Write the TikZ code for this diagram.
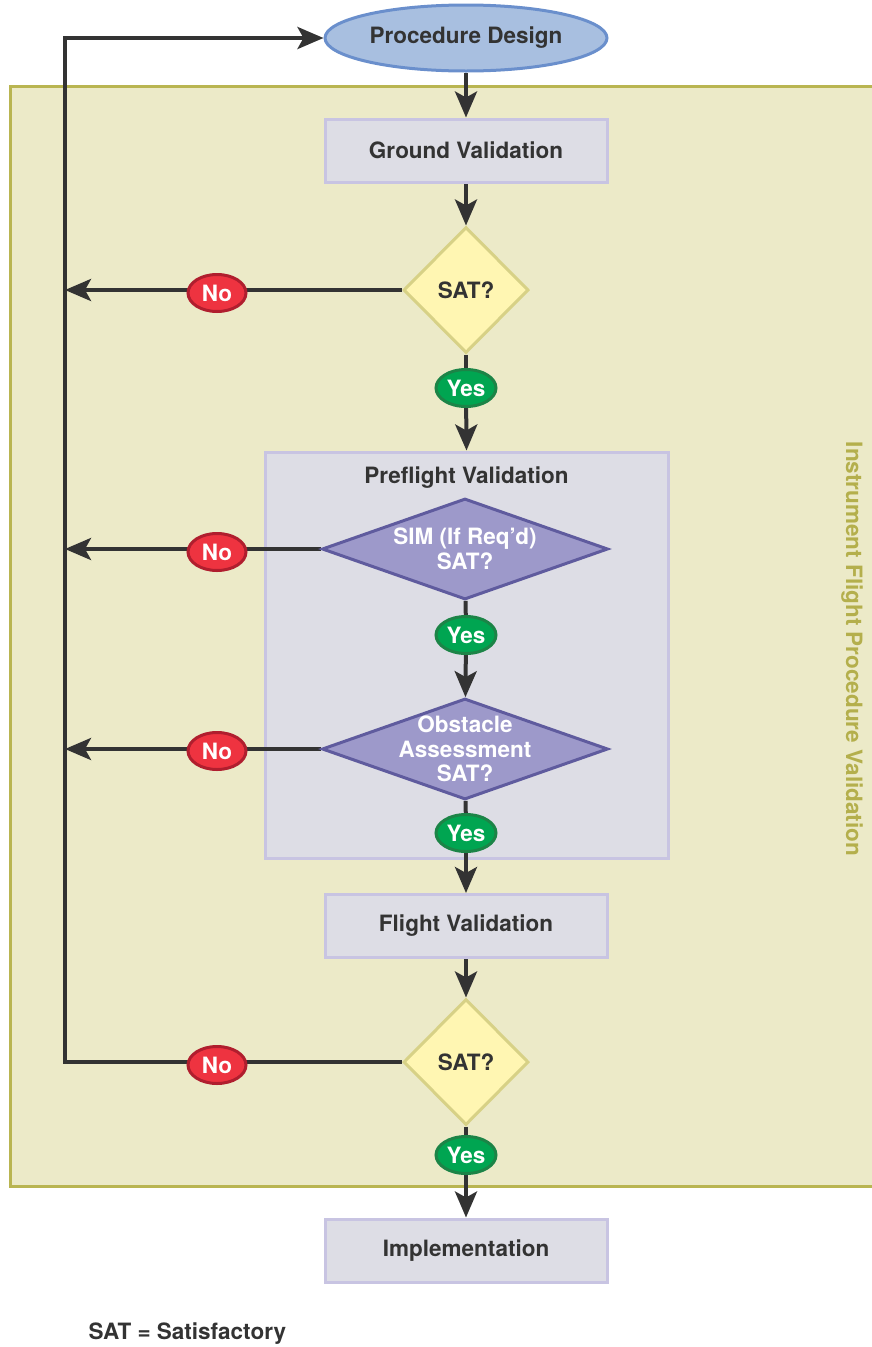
\documentclass[tikz,border=0pt]{standalone}
\usepackage{fontspec}
\setmainfont{TeX Gyre Heros}
\usetikzlibrary{shapes.geometric,arrows.meta}
\definecolor{ink}{HTML}{333333}
\definecolor{panelfill}{HTML}{ECEAC8}
\definecolor{paneldraw}{HTML}{B9B551}
\definecolor{boxfill}{HTML}{DDDDE5}
\definecolor{boxdraw}{HTML}{C8C4E2}
\definecolor{ovalfill}{HTML}{A8BFE0}
\definecolor{ovaldraw}{HTML}{6A8FCC}
\definecolor{ydfill}{HTML}{FFF6B2}
\definecolor{yddraw}{HTML}{D7D186}
\definecolor{pdfill}{HTML}{9D99CA}
\definecolor{pddraw}{HTML}{5F5B9E}
\definecolor{yesfill}{HTML}{00A551}
\definecolor{yesdraw}{HTML}{1C8447}
\definecolor{nofill}{HTML}{EE3340}
\definecolor{nodraw}{HTML}{B01E2E}
\definecolor{vtext}{HTML}{B4AF4C}
\pgfdeclarelayer{bg}
\pgfdeclarelayer{lines}
\pgfsetlayers{bg,lines,main}
\tikzset{
  lbl/.style={font=\fontsize{22.5}{25}\selectfont\bfseries, text=ink},
  procbox/.style={lbl, rectangle, draw=boxdraw, fill=boxfill, line width=3pt, minimum width=282pt, minimum height=63pt, inner sep=0pt},
  startoval/.style={lbl, ellipse, draw=ovaldraw, fill=ovalfill, line width=3pt, minimum width=282pt, minimum height=66pt, inner sep=0pt},
  ydiam/.style={lbl, diamond, draw=yddraw, fill=ydfill, line width=3pt, minimum width=125pt, minimum height=126pt, inner sep=0pt},
  pdiam/.style={diamond, draw=pddraw, fill=pdfill, line width=3pt, minimum width=286pt, minimum height=101pt, inner sep=0pt},
  ptext/.style={text=white, align=center, inner sep=0pt, font=\fontsize{22.5}{24.5}\selectfont\bfseries},
  yesoval/.style={lbl, ellipse, draw=yesdraw, fill=yesfill, text=white, line width=3pt, minimum width=60pt, minimum height=37pt, inner sep=0pt},
  nooval/.style={lbl, ellipse, draw=nodraw, fill=nofill, text=white, line width=3pt, minimum width=58pt, minimum height=37pt, inner sep=0pt},
  conn/.style={draw=ink, line width=4pt},
  arr/.style={conn, -{Stealth[length=26pt,width=22pt,inset=6pt]}},
}
\begin{document}
\begin{tikzpicture}[x=1pt,y=-1pt]
\useasboundingbox (0,0) rectangle (872,1347);
\begin{pgfonlayer}{bg}
  \fill[panelfill] (10,86) rectangle (872,1186);
  \draw[paneldraw, line width=3pt] (872,86) -- (10,86) -- (10,1186) -- (872,1186);
  \node[draw=boxdraw, fill=boxfill, line width=3pt, minimum width=403pt, minimum height=406pt, inner sep=0pt] (pf) at (466.5,655) {};
\end{pgfonlayer}
\node[lbl] (pft) at (466.5,478) {Preflight Validation};
\node[startoval] (pd) at (466,38) {Procedure Design};
\node[procbox] (gv) at (466,150.5) {Ground Validation};
\node[ydiam] (d1) at (466,290) {SAT?};
\node[yesoval] (y1) at (466,388) {Yes};
\node[pdiam, label={[ptext]center:SIM (If Req’d)\\SAT?}] (d2) at (465,549) {};
\node[yesoval] (y2) at (466,635) {Yes};
\node[pdiam, label={[ptext]center:Obstacle\\Assessment\\SAT?}] (d3) at (465,749) {};
\node[yesoval] (y3) at (466,833) {Yes};
\node[procbox] (fv) at (466,926) {Flight Validation};
\node[ydiam] (d4) at (466,1062) {SAT?};
\node[yesoval] (y4) at (466,1155) {Yes};
\node[procbox] (im) at (466,1250.5) {Implementation};
\node[nooval] (n1) at (217,293) {No};
\node[nooval] (n2) at (217,552) {No};
\node[nooval] (n3) at (217,751) {No};
\node[nooval] (n4) at (217,1065) {No};
\node[lbl, anchor=west] (leg) at (85,1334) {SAT = Satisfactory};
\node[lbl, text=vtext, rotate=-90, font=\fontsize{22.5}{25}\selectfont\bfseries] (vt) at (852,649) {Instrument Flight Procedure Validation};
\coordinate (L0) at (65,38);
\coordinate (L1) at (d1.west -| L0);
\coordinate (L2) at (d2.west -| L0);
\coordinate (L3) at (d3.west -| L0);
\coordinate (L4) at (d4.west -| L0);
\begin{pgfonlayer}{lines}
  \draw[arr] (pd) -- (gv);
  \draw[arr] (gv) -- (d1);
  \draw[conn] (d1) -- (y1);
  \draw[arr] (y1) -- (pf.north);
  \draw[conn] (d2) -- (y2);
  \draw[arr] (y2) -- (d3);
  \draw[conn] (d3) -- (y3);
  \draw[arr] (y3) -- (fv);
  \draw[arr] (fv) -- (d4);
  \draw[conn] (d4) -- (y4);
  \draw[arr] (y4) -- (im);
  \draw[arr] (d1.west) -- (L1);
  \draw[arr] (d2.west) -- (L2);
  \draw[arr] (d3.west) -- (L3);
  \draw[arr, line join=miter] (d4.west) -- (L4) -- (L0) -- (pd.west);
\end{pgfonlayer}
\end{tikzpicture}
\end{document}
